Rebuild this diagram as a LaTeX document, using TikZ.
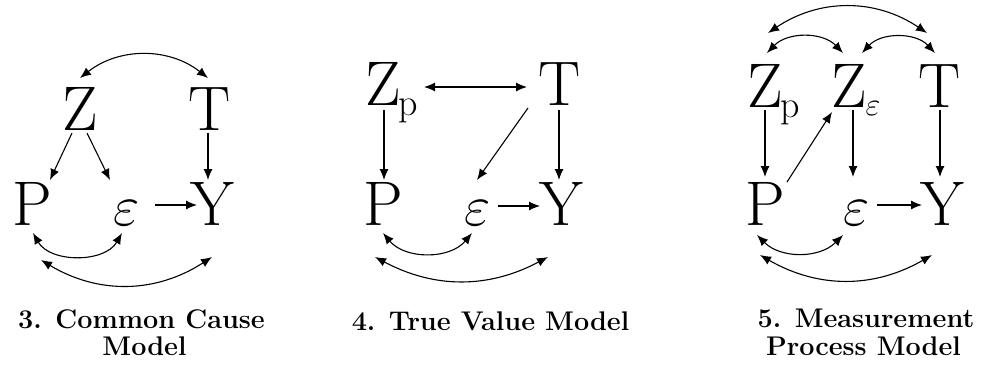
\documentclass[tikz,border=0pt]{standalone}
\usepackage{graphicx}
\usetikzlibrary{arrows.meta}
\newcommand{\myeps}{\scalebox{2.3}{\Huge$\varepsilon$}}
\newcommand{\mysubp}{\kern-2pt\raisebox{-10pt}{\fontsize{38}{38}\selectfont p}}
\newcommand{\mysube}{\kern-1pt\raisebox{-8pt}{\scalebox{1.3}{\Huge$\varepsilon$}}}
\begin{document}
\begin{tikzpicture}[x=1pt,y=-1pt,
  var/.style={inner sep=0pt, anchor=base, font=\rmfamily\fontsize{63}{63}\selectfont},
  varw/.style={inner sep=0pt, anchor=base west, font=\rmfamily\fontsize{63}{63}\selectfont},
  epsn/.style={inner sep=0pt, anchor=base},
  arr/.style={line width=1.1pt, -{Latex[length=11pt,width=9pt]}},
  biarr/.style={line width=1.1pt, {Latex[length=11pt,width=9pt]}-{Latex[length=11pt,width=9pt]}},
  ttl/.style={inner sep=0pt, anchor=base, font=\rmfamily\bfseries\fontsize{27}{27}\selectfont}]
\useasboundingbox (0,0) rectangle (981,369);

% ---------- Panel 3: Common Cause ----------
\node[var] (Z1) at (80,130) {Z};
\node[var] (T1) at (210,130) {T};
\node[var] (P1) at (32,225) {P};
\node[epsn] (E1) at (127,225) {\myeps};
\node[var] (Y1) at (212,225) {Y};
\draw[biarr] ([shift={(0,-52)}]Z1.base) to[bend left=38] ([shift={(-2,-52)}]T1.base);
\draw[arr] ([shift={(-8,3)}]Z1.base) -- ([shift={(18,-45)}]P1.base);
\draw[arr] ([shift={(7,3)}]Z1.base) -- ([shift={(-17,-45)}]E1.base);
\draw[arr] ([shift={(-2,3)}]T1.base) -- ([shift={(-4,-45)}]Y1.base);
\draw[arr] ([shift={(28,-20)}]E1.base) -- ([shift={(-15,-20)}]Y1.base);
\draw[biarr] ([shift={(1,8)}]P1.base) to[bend right=60] ([shift={(-5,8)}]E1.base);
\draw[biarr] ([shift={(9,35)}]P1.base) to[bend right=32] ([shift={(0,32)}]Y1.base);
\node[ttl] (L1a) at (141.5,328) {3. Common Cause};
\node[ttl] (L1b) at (144.5,355) {Model};

% ---------- Panel 4: True Value ----------
\node[varw] (Zp2) at (365,105) {Z\mysubp};
\node[var] (T2) at (560,105) {T};
\node[var] (P2) at (383,225) {P};
\node[epsn] (E2) at (478,225) {\myeps};
\node[var] (Y2) at (561,225) {Y};
\draw[biarr] ([shift={(59,-18)}]Zp2.base west) -- ([shift={(-33,-18)}]T2.base);
\draw[arr] ([shift={(19,5)}]Zp2.base west) -- ([shift={(1,-45)}]P2.base);
\draw[arr] ([shift={(-32,3)}]T2.base) -- ([shift={(-1,-45)}]E2.base);
\draw[arr] ([shift={(-1,5)}]T2.base) -- ([shift={(-2,-45)}]Y2.base);
\draw[arr] ([shift={(20,-19)}]E2.base) -- ([shift={(-21,-19)}]Y2.base);
\draw[biarr] ([shift={(0,8)}]P2.base) to[bend right=50] ([shift={(-6,8)}]E2.base);
\draw[biarr] ([shift={(-8,32)}]P2.base) to[bend right=28] ([shift={(-13,32)}]Y2.base);
\node[ttl] (L2) at (490.5,330) {4. True Value Model};

% ---------- Panel 5: Measurement Process ----------
\node[varw] (Zp3) at (747,107) {Z\mysubp};
\node[varw] (Ze3) at (831,107) {Z\mysube};
\node[var] (T3) at (940,107) {T};
\node[var] (P3) at (765,225) {P};
\node[epsn] (E3) at (857,225) {\myeps};
\node[var] (Y3) at (942,225) {Y};
\draw[biarr] ([shift={(21,-74)}]Zp3.base west) to[bend left=34] ([shift={(-13,-74)}]T3.base);
\draw[biarr] ([shift={(20,-54)}]Zp3.base west) to[bend left=46] ([shift={(12,-54)}]Ze3.base west);
\draw[biarr] ([shift={(31,-54)}]Ze3.base west) to[bend left=47] ([shift={(-5,-54)}]T3.base);
\draw[arr] ([shift={(18,3)}]Zp3.base west) -- ([shift={(0,-48)}]P3.base);
\draw[arr] ([shift={(22,-43)}]P3.base) -- ([shift={(1,5)}]Ze3.base west);
\draw[arr] ([shift={(22,3)}]Ze3.base west) -- ([shift={(-4,-48)}]E3.base);
\draw[arr] ([shift={(0,3)}]T3.base) -- ([shift={(-2,-48)}]Y3.base);
\draw[arr] ([shift={(20,-20)}]E3.base) -- ([shift={(-20,-20)}]Y3.base);
\draw[biarr] ([shift={(-8,10)}]P3.base) to[bend right=45] ([shift={(-14,10)}]E3.base);
\draw[biarr] ([shift={(-5,30)}]P3.base) to[bend right=30] ([shift={(-10,30)}]Y3.base);
\node[ttl] (L3a) at (866,327) {5. Measurement};
\node[ttl] (L3b) at (863.5,355) {Process Model};
\end{tikzpicture}
\end{document}
